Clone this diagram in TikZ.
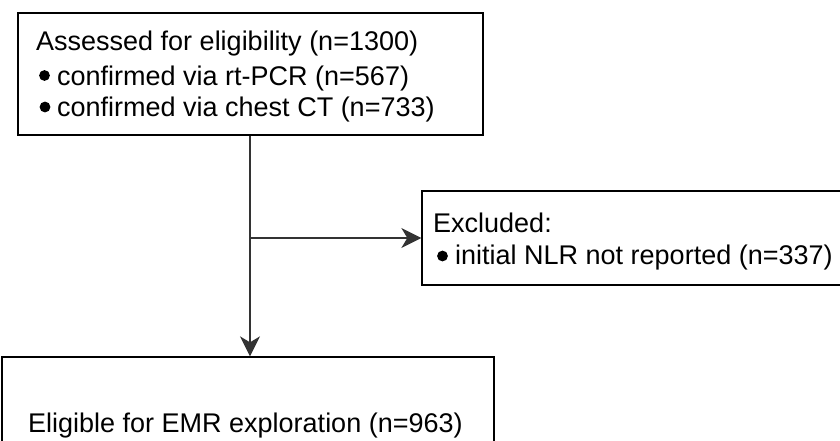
\documentclass[tikz,border=0pt]{standalone}
\usepackage{fontspec}
\setmainfont{Liberation Sans}
\usetikzlibrary{arrows.meta}
\begin{document}
\begin{tikzpicture}[x=1pt,y=-1pt,
  box/.style={draw=black,line width=1.3pt,rectangle,inner sep=0pt,fill=white},
  txt/.style={anchor=base west,inner sep=0pt,font=\fontsize{27}{31}\selectfont},
  conn/.style={draw=black!80,line width=1.3pt,-{Stealth[length=20pt,width=20pt,inset=6pt]}},
  dot/.style={fill=black}]
\useasboundingbox[fill=white] (0,0) rectangle (840,441);
% boxes
\node[box,minimum width=465pt,minimum height=122pt] (b1) at (250.5,74) {};
\node[box,minimum width=428pt,minimum height=94pt] (b2) at (636,238) {};
\node[box,minimum width=492pt,minimum height=123pt] (b3) at (248,418.5) {};
% texts
\node[txt] (t1) at (36,51) {Assessed for eligibility (n=1300)};
\node[txt] (t2) at (57,86) {confirmed via rt-PCR (n=567)};
\node[txt] (t3) at (57,116.5) {confirmed via chest CT (n=733)};
\node[txt] (t4) at (433,232.5) {Excluded:};
\node[txt] (t5) at (455,264) {initial NLR not reported (n=337)};
\node[txt] (t6) at (28,432) {Eligible for EMR exploration (n=963)};
% bullets
\fill[dot] (44.5,75.5) circle (5.4);
\fill[dot] (45,107) circle (5.4);
\fill[dot] (442.5,256) circle (5.4);
% connectors
\coordinate (j) at (250,238);
\draw[conn] (b1.south -| j) -- (b3.north -| j);
\draw[conn] (j) -- (b2.west);
\end{tikzpicture}
\end{document}
